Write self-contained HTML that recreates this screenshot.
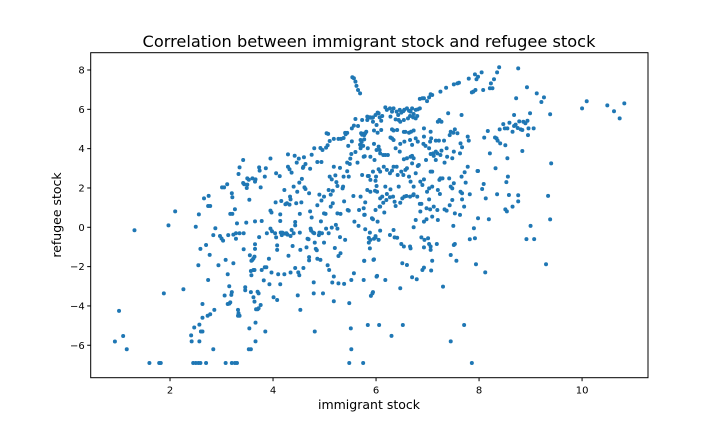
<!DOCTYPE html>
<html><head><meta charset="utf-8"><style>
html,body{margin:0;padding:0;background:#fff;}
svg{display:block;font-family:"DejaVu Sans","Liberation Sans",sans-serif;}
</style></head><body>
<svg id="chart" width="720" height="432" viewBox="0 0 720 432">
<rect width="720" height="432" fill="#fff"/>
<text x="369" y="47" text-anchor="middle" font-size="16.2" fill="#000">Correlation between immigrant stock and refugee stock</text>
<text x="369" y="409" text-anchor="middle" font-size="12.5" fill="#000">immigrant stock</text>
<text x="0" y="0" transform="translate(61,215) rotate(-90)" text-anchor="middle" font-size="12.5" fill="#000">refugee stock</text>
<g id="points"></g>
<g id="axes"></g>
</svg>
<script>
const xTicks = [2, 4, 6, 8, 10];
const yTicks = [-6, -4, -2, 0, 2, 4, 6, 8];
const xDomain = [0.46, 11.28];
const yDomain = [-7.65, 8.88];
const points = [
[0.93,-5.81],[1.01,-4.25],[1.09,-5.53],[1.16,-6.2],[1.31,-0.15],[1.6,-6.9],[1.79,-6.9],[1.82,-6.9],[1.88,-3.36],[1.97,0.1],[2.1,0.81],[2.26,-3.15],
[2.41,-5.5],[2.42,-5.8],[2.47,-5.1],[2.45,-6.9],[2.5,-6.9],[2.55,-6.9],[2.59,-6.9],[2.57,-4.95],[2.6,-5.3],[2.63,-5.3],[2.57,-5.8],[2.63,-3.9],[2.63,-4.6],[2.5,0.03],[2.56,0.66],[2.55,-1.93],[2.59,-1.1],[2.66,1.47],[2.7,-0.9],[2.7,-6.9],[2.73,-4.5],[2.74,-2.68],[2.75,1.6],[2.74,1.08],[2.78,1.08],[2.77,-1.4],[2.78,-4.42],[2.84,-6.2],[2.84,-0.4],[2.86,-4.2],[2.88,-0.05],[2.94,-1.93],[2.97,-0.44],[3.0,-0.57],[3.03,-0.68],[3.01,2.03],[3.05,2.03],[3.08,-6.9],[3.08,-1.66],[3.06,-3.47],[3.11,2.19],[3.12,-2.39],[3.13,-0.4],[3.12,-3.9],[3.15,-3.88],[3.17,-3.82],[3.15,-3.0],[3.17,0.68],[3.21,0.68],[3.2,-6.9],[3.26,-6.9],[3.3,-6.9],[3.19,-3.44],[3.2,-3.3],[3.2,1.73],[3.21,1.53],[3.23,-1.83],[3.23,-0.37],[3.26,0.92],[3.28,-0.58],[3.28,-0.3],[3.3,0.2],[3.32,-4.2],[3.33,-4.37],[3.35,-4.5],[3.32,-4.5],[3.33,2.71],[3.35,3.05],[3.35,-0.3],[3.42,2.25],[3.44,2.19],[3.43,-1.12],[3.42,3.42],[3.43,-0.3],[3.46,-3.05],[3.46,-3.2],[3.49,2.0],[3.5,2.17],[3.48,0.24],[3.5,2.49],[3.53,2.42],[3.54,-5.14],[3.53,-6.2],[3.57,-6.2],[3.54,1.4],[3.55,-1.42],[3.57,-2.22],[3.58,-2.44],[3.57,-3.3],[3.58,-1.7],[3.6,2.49],[3.6,-1.66],[3.62,-1.58],[3.64,-1.49],[3.62,-2.17],[3.62,-3.56],[3.64,-3.78],[3.64,-2.17],[3.65,2.32],[3.66,2.44],[3.65,-0.86],[3.65,-1.1],[3.65,0.3],[3.66,-4.85],[3.66,-5.8],[3.67,-4.17],[3.7,-3.28],[3.72,-3.36],[3.7,-4.17],[3.72,-4.12],[3.76,-3.95],[3.73,-0.5],[3.73,3.05],[3.74,2.88],[3.78,0.32],[3.78,-2.17],[3.76,2.03],[3.82,-2.7],[3.84,-2.03],[3.85,-5.3],[3.84,2.58],[3.86,3.0],[3.87,-2.03],[3.88,-0.3],[3.92,-1.6],[3.93,-2.9],[3.95,3.5],[3.95,0.85],[3.97,0.75],[3.95,-0.07],[3.98,-0.2],[3.97,-2.3],
[4.01,-3.56],[4.04,-0.3],[4.06,-0.51],[4.05,1.27],[4.06,2.75],[4.08,-3.7],[4.08,-1.15],[4.08,-0.92],[4.1,-2.39],[4.13,2.6],[4.14,0.66],[4.16,1.34],[4.14,-2.9],[4.14,0.32],[4.17,-0.4],[4.15,-0.27],[4.18,-0.27],[4.22,1.9],[4.22,-2.39],[4.23,-0.32],[4.24,1.17],[4.27,1.22],[4.26,-0.3],[4.28,-0.37],[4.29,3.71],[4.29,3.08],[4.3,-1.45],[4.32,1.15],[4.32,2.95],[4.33,1.56],[4.34,1.42],[4.34,-0.44],[4.36,2.78],[4.34,-2.3],[4.36,-0.14],[4.38,-0.95],[4.4,-0.3],[4.4,2.07],[4.42,3.64],[4.43,-2.07],[4.43,0.27],[4.43,0.1],[4.45,1.22],[4.46,3.29],[4.47,1.81],[4.48,-3.46],[4.49,-2.29],[4.5,3.49],[4.51,2.27],[4.51,-2.44],[4.52,0.68],[4.52,-0.27],[4.53,-4.2],[4.53,-1.15],[4.55,1.27],[4.56,2.46],[4.58,3.02],[4.59,3.08],[4.59,-2.07],[4.6,3.56],[4.61,2.03],[4.63,1.95],[4.63,3.22],[4.65,-1.02],[4.67,-0.58],[4.69,-0.61],[4.7,-1.52],[4.7,-1.68],[4.7,1.73],[4.72,2.98],[4.72,0.81],[4.73,-0.07],[4.74,-0.17],[4.75,0.5],[4.75,3.69],[4.78,-0.27],[4.8,-0.3],[4.79,-3.36],[4.79,-2.8],[4.8,4.02],[4.81,-0.78],[4.81,-5.3],[4.83,-1.1],[4.85,-1.17],[4.86,-1.6],[4.86,1.12],[4.86,3.32],[4.89,-0.4],[4.9,1.66],[4.9,-0.27],[4.92,-1.66],[4.92,4.03],[4.93,0.3],[4.94,1.36],[4.94,3.32],[4.95,-0.3],[4.96,3.93],[4.97,-3.36],[4.99,-0.78],[4.99,1.56],[4.99,0.71],[5.02,0.68],[5.03,4.05],[5.06,4.17],[5.03,-0.07],[5.04,4.78],[5.07,4.75],[5.06,-1.93],[5.09,-2.17],[5.08,1.9],[5.08,-0.3],[5.1,4.39],[5.1,2.58],[5.12,1.05],[5.12,1.66],[5.14,-0.02],[5.14,2.44],[5.15,-2.81],[5.16,1.22],[5.16,1.86],[5.18,4.5],[5.18,-2.5],[5.18,-3.76],[5.18,3.08],[5.2,-1.05],[5.21,2.64],[5.22,0.12],[5.25,-0.07],[5.23,2.3],[5.25,2.1],[5.25,0.71],[5.27,-2.85],[5.27,-1.46],[5.31,-1.32],[5.27,4.5],[5.32,4.5],[5.37,4.54],[5.3,3.02],[5.3,-0.5],[5.31,0.68],[5.35,1.98],[5.37,2.58],[5.36,2.07],[5.38,1.32],[5.38,-2.88],[5.4,4.8],[5.44,4.8],[5.41,4.73],[5.4,-0.64],[5.44,2.85],[5.44,3.29],[5.45,0.88],[5.47,0.85],[5.46,4.14],[5.47,2.58],[5.48,-3.86],[5.48,-6.9],[5.49,3.22],[5.5,3.49],[5.52,3.73],[5.51,-5.14],[5.52,-6.2],[5.52,-2.68],[5.53,4.37],[5.53,5.03],[5.57,5.17],[5.6,5.51],
[5.54,7.63],[5.57,7.58],[5.6,7.41],[5.62,7.19],[5.65,6.98],[5.69,6.81],[5.56,1.59],[5.57,-2.34],[5.58,0.29],[5.6,3.83],[5.64,3.29],[5.65,5.15],[5.66,0.07],[5.67,0.88],[5.69,4.2],[5.72,4.34],[5.7,4.44],[5.73,4.71],[5.76,4.76],[5.75,-6.9],[5.76,-2.68],[5.77,-1.71],[5.78,0.64],[5.78,3.61],[5.79,4.78],[5.83,5.46],[5.84,-4.97],[5.86,-0.54],[5.86,2.61],[5.88,5.6],[5.89,-0.64],[5.92,5.57],[5.93,-3.36],[5.94,0.41],[5.95,-1.66],[5.97,3.42],[5.98,1.86],[5.99,-0.45],[6.0,2.58],[6.02,-2.47],[6.05,5.8],[6.06,-4.97],[6.07,1.05],[6.07,3.93],
[6.3,-5.52],[6.52,-4.97],[7.45,-5.8],[7.71,-4.97],[7.86,-6.9],[7.3,-3.02],[8.12,-2.29],[7.94,-1.88],[9.3,-1.88],[9.0,0.07],[8.92,-0.6],[9.07,-0.6],[9.38,0.4],[9.34,1.6],[9.4,3.25],[9.38,5.75],[9.26,6.61],[9.21,6.37],[9.12,6.81],[8.93,7.12],[8.76,8.08],[8.72,6.56],[8.39,8.14],[8.35,7.88],[8.29,7.53],[8.23,7.32],[8.21,7.07],[8.26,7.07],[8.05,7.88],[7.98,7.66],[7.95,7.53],[7.92,7.78],[7.93,6.98],[7.86,6.86],[7.89,6.9],[8.08,6.98],[7.8,7.56],[7.58,7.32],[7.61,7.35],[7.51,7.27],[7.36,7.1],[7.25,6.9],[7.09,6.73],[7.06,6.77],[7.03,6.61],[6.99,6.42],[6.93,6.56],[6.85,6.53],[10.0,6.05],[10.09,6.41],[10.49,6.2],[10.62,5.9],[10.73,5.54],[10.82,6.3],
[8.47,5.25],[8.55,5.03],[8.59,5.32],[8.65,4.86],[8.68,5.15],[8.71,5.22],[8.75,5.05],[8.78,5.39],[8.81,4.98],[8.84,4.95],[8.86,5.37],[8.9,5.29],[8.94,5.42],[8.96,5.03],[8.99,5.8],[9.06,5.03],[8.95,4.69],[8.84,3.88],[8.68,5.71],[8.4,4.98],[8.5,5.03],[8.51,4.17],[8.55,3.51],[8.56,2.58],[8.53,2.3],[8.58,1.64],[8.76,1.63],[8.76,1.32],[8.65,1.05],[8.51,0.91],[8.54,0.81],[8.34,4.52],[8.31,4.57],[8.36,4.41],[8.41,4.27],[8.32,3.0],[8.21,3.76],[8.17,4.9],[8.1,4.56],[7.97,2.86],[8.09,2.2],[8.06,1.95],[8.13,1.47],[8.19,0.41],[7.98,0.46],[7.9,-0.05],[7.92,-0.56],[7.82,-0.61],[8.35,1.68],[7.82,1.68],
[5.73,5.46],[5.83,5.63],[5.89,5.58],[5.94,5.59],[5.99,5.71],[6.03,5.83],[6.07,5.59],[6.12,5.66],[6.18,6.1],[6.21,5.97],[6.27,6.05],[6.31,5.88],[6.34,6.05],[6.4,5.88],[6.43,5.71],[6.46,5.97],[6.49,5.83],[6.53,5.91],[6.55,5.98],[6.6,6.05],[6.64,5.93],[6.67,5.88],[6.7,6.05],[6.73,5.76],[6.77,5.97],[6.81,6.0],[6.85,6.05],[6.9,6.56],[6.01,5.2],[5.77,4.69],[5.81,4.86],[5.94,5.37],[6.1,5.42],[6.28,5.63],[6.38,5.49],[6.44,5.46],[6.47,5.37],[6.54,5.46],[6.62,5.54],[6.66,5.66],[6.72,5.59],[6.77,5.54],[6.8,5.66],[5.71,4.78],[5.96,4.92],[6.03,4.81],[6.1,4.95],[6.31,4.98],[6.34,4.92],[6.41,4.95],[6.54,4.85],[6.57,4.85],[6.64,4.81],[6.68,4.86],[6.73,4.92],[6.93,5.03],[7.06,4.86],[7.23,5.46],[7.27,5.37],[7.2,5.37],[7.4,5.8],[7.45,4.86],[7.5,4.81],[7.58,4.78],[7.66,5.71],[7.53,4.98],
[5.7,4.02],[5.75,4.14],[5.84,4.02],[5.77,4.47],[5.96,4.24],[6.05,4.1],[6.08,3.76],[6.14,3.68],[6.18,3.68],[6.28,4.57],[6.31,4.52],[6.34,4.44],[6.38,4.02],[6.46,3.85],[6.55,4.36],[6.66,4.44],[6.7,4.19],[6.77,4.52],[6.81,4.36],[6.93,4.61],[6.96,4.14],[7.03,4.02],[7.05,4.36],[7.07,4.52],[7.16,4.41],[7.19,3.76],[7.22,4.41],[7.25,3.68],[7.32,4.41],[7.37,4.02],[7.43,4.69],[7.51,3.85],[7.63,3.76],[7.67,4.07],[7.78,4.61],[7.8,4.41],[7.64,4.27],[7.27,3.9],[7.06,3.73],[6.92,4.24],[6.73,3.51],[6.67,3.59],[6.7,3.63],[6.6,3.51],[6.54,3.46],[5.89,3.59],[5.76,3.59],[6.01,3.93],[6.23,3.68],[6.47,4.24],[7.16,3.85],[7.11,3.76],
[5.73,2.66],[5.84,2.61],[5.89,2.41],[5.99,2.37],[6.01,2.1],[5.94,2.83],[6.05,2.95],[6.08,2.83],[6.15,3.08],[6.21,2.92],[6.27,2.75],[6.31,2.88],[6.34,3.08],[6.4,3.08],[6.42,2.66],[6.44,2.07],[6.49,2.83],[6.53,2.66],[6.57,2.92],[6.6,3.0],[6.64,2.58],[6.67,2.32],[6.7,3.25],[6.73,2.07],[6.77,2.75],[6.81,3.12],[6.83,3.17],[6.86,2.32],[6.9,2.15],[6.93,2.44],[6.97,3.42],[6.99,1.81],[7.03,1.98],[7.06,2.83],[7.09,2.83],[7.09,2.07],[7.16,3.42],[7.2,1.9],[7.25,2.49],[7.29,2.49],[7.42,2.49],[7.45,2.07],[7.48,1.98],[7.51,2.24],[7.64,1.81],[7.66,2.58],[7.72,2.8],[7.74,2.27],[7.78,3.08],[7.98,2.86],[7.48,3.51],[7.38,3.59],[7.33,3.29],[7.12,3.63],[7.23,2.41],[6.21,1.69],[6.18,2.07],[6.08,1.47],[6.12,1.56],[6.02,1.81],[5.89,1.81],[5.83,1.9],
[5.7,1.56],[5.79,1.27],[5.76,0.97],[5.77,0.63],[5.92,0.46],[5.99,0.88],[6.03,0.29],[6.08,1.05],[6.14,1.25],[6.16,0.75],[6.2,1.39],[6.27,1.53],[6.28,1.93],[6.33,1.56],[6.36,1.3],[6.38,1.08],[6.47,1.25],[6.55,1.56],[6.59,1.59],[6.66,1.56],[6.72,1.63],[6.73,1.68],[6.8,1.56],[6.85,1.19],[6.86,0.8],[6.93,0.29],[6.98,0.41],[7.03,1.42],[7.05,0.91],[7.09,0.54],[7.12,1.05],[7.19,0.88],[7.2,0.37],[7.24,1.69],[7.33,0.91],[7.37,0.85],[7.43,1.12],[7.48,1.39],[7.53,0.71],[7.63,0.63],[7.67,1.73],[7.67,1.42],[7.71,1.05],[6.98,0.97],[6.77,0.37],[6.88,1.19],[6.51,1.47],
[5.79,-0.1],[5.88,-0.27],[5.96,-0.58],[5.99,-0.51],[6.05,-0.64],[6.08,-0.17],[5.86,-0.78],[5.88,-1.07],[5.96,-1.63],[5.77,-1.7],[6.27,-0.39],[6.34,-0.14],[6.36,-0.51],[6.41,-0.53],[6.49,-0.85],[6.54,-0.98],[6.66,-0.98],[6.67,-1.07],[6.73,0.0],[6.88,-0.51],[6.93,-1.02],[6.94,-0.64],[7.01,-0.56],[7.03,-0.85],[7.06,-0.98],[7.06,-1.15],[7.09,-1.7],[7.18,-0.85],[7.5,0.07],[7.53,-0.85],[7.51,-0.9],[7.56,-1.7],[7.45,-1.41],[6.51,-1.83],[6.6,-1.92],[6.9,-2.17],[6.93,-2.05],[7.07,-2.2],
[6.01,-2.51],[6.18,-2.68],[5.9,-3.49],[5.94,-3.3],[6.7,-2.54],[6.79,-2.64],[6.47,-3.1]
];

const NS = 'http://www.w3.org/2000/svg';
const plot = {left: 90.7, right: 648, top: 52.7, bottom: 377.7};
function xScale(v){ return plot.left + (v - xDomain[0]) / (xDomain[1] - xDomain[0]) * (plot.right - plot.left); }
function yScale(v){ return plot.bottom - (v - yDomain[0]) / (yDomain[1] - yDomain[0]) * (plot.bottom - plot.top); }

const gp = document.getElementById('points');
points.forEach(function(p){
  const c = document.createElementNS(NS, 'circle');
  c.setAttribute('cx', xScale(p[0]).toFixed(2));
  c.setAttribute('cy', yScale(p[1]).toFixed(2));
  c.setAttribute('r', '2.0');
  c.setAttribute('fill', '#1f77b4');
  
  
  gp.appendChild(c);
});

const ga = document.getElementById('axes');
const frame = document.createElementNS(NS, 'rect');
frame.setAttribute('x', plot.left); frame.setAttribute('y', plot.top);
frame.setAttribute('width', plot.right - plot.left); frame.setAttribute('height', plot.bottom - plot.top);
frame.setAttribute('fill', 'none'); frame.setAttribute('stroke', '#000'); frame.setAttribute('stroke-width', '1');


ga.appendChild(frame);

xTicks.forEach(function(t){
  const x = xScale(t);
  const l = document.createElementNS(NS, 'line');
  l.setAttribute('x1', x); l.setAttribute('x2', x); l.setAttribute('y1', plot.bottom); l.setAttribute('y2', plot.bottom + 3.5);
  l.setAttribute('stroke', '#000');
  
  
  ga.appendChild(l);
  const tx = document.createElementNS(NS, 'text');
  tx.setAttribute('x', x); tx.setAttribute('y', plot.bottom + 16);
  tx.setAttribute('text-anchor', 'middle'); tx.setAttribute('font-size', '10');
  tx.textContent = String(t);
  
  
  ga.appendChild(tx);
});
yTicks.forEach(function(t){
  const y = yScale(t);
  const l = document.createElementNS(NS, 'line');
  l.setAttribute('x1', plot.left - 3.5); l.setAttribute('x2', plot.left); l.setAttribute('y1', y); l.setAttribute('y2', y);
  l.setAttribute('stroke', '#000');
  
  
  ga.appendChild(l);
  const tx = document.createElementNS(NS, 'text');
  tx.setAttribute('x', plot.left - 6); tx.setAttribute('y', y + 3.5);
  tx.setAttribute('text-anchor', 'end'); tx.setAttribute('font-size', '10');
  tx.textContent = t < 0 ? '\u2212' + Math.abs(t) : String(t);
  
  
  ga.appendChild(tx);
});
</script>
</body></html>
